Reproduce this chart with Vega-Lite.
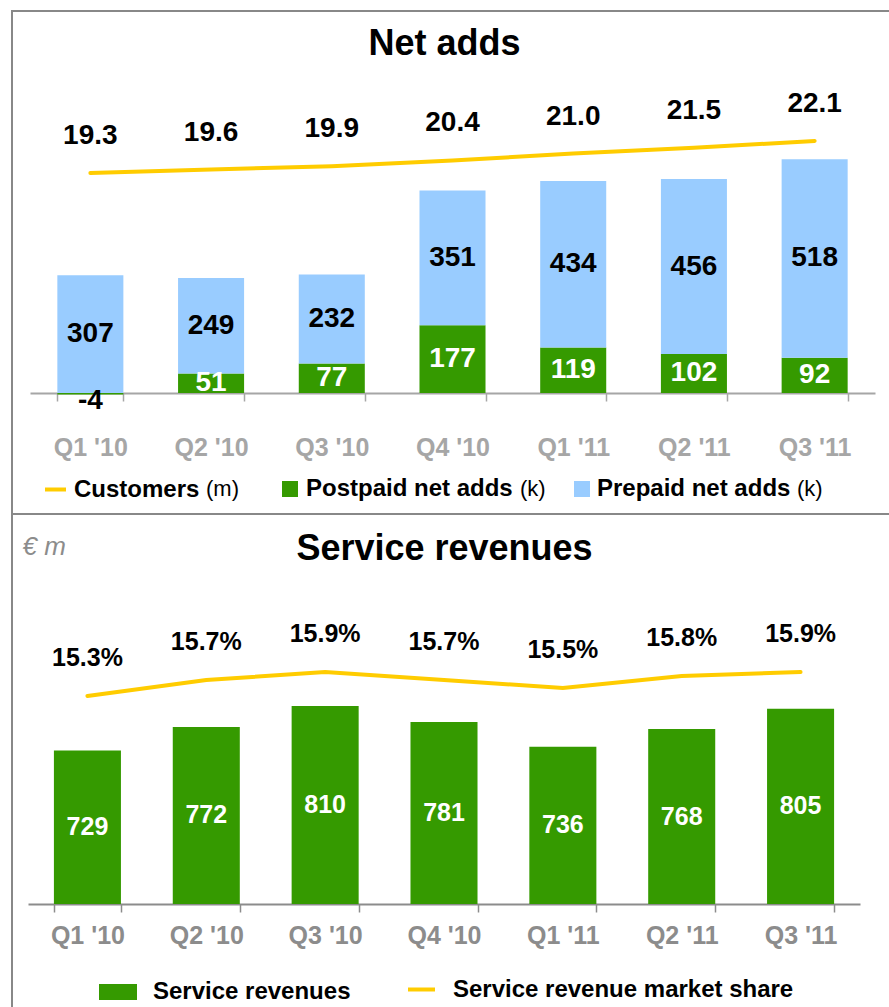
{
  "$schema": "https://vega.github.io/schema/vega-lite/v6.json",
  "background": "white",
  "padding": {"left": 11, "top": 10, "right": 0, "bottom": 0},
  "spacing": 0,
  "bounds": "flush",
  "datasets": {
    "netadds": [
      {"quarter": "Q1 '10", "series": "Postpaid", "value": -4},
      {"quarter": "Q1 '10", "series": "Prepaid", "value": 307},
      {"quarter": "Q2 '10", "series": "Postpaid", "value": 51},
      {"quarter": "Q2 '10", "series": "Prepaid", "value": 249},
      {"quarter": "Q3 '10", "series": "Postpaid", "value": 77},
      {"quarter": "Q3 '10", "series": "Prepaid", "value": 232},
      {"quarter": "Q4 '10", "series": "Postpaid", "value": 177},
      {"quarter": "Q4 '10", "series": "Prepaid", "value": 351},
      {"quarter": "Q1 '11", "series": "Postpaid", "value": 119},
      {"quarter": "Q1 '11", "series": "Prepaid", "value": 434},
      {"quarter": "Q2 '11", "series": "Postpaid", "value": 102},
      {"quarter": "Q2 '11", "series": "Prepaid", "value": 456},
      {"quarter": "Q3 '11", "series": "Postpaid", "value": 92},
      {"quarter": "Q3 '11", "series": "Prepaid", "value": 518}
    ],
    "customers": [
      {"quarter": "Q1 '10", "customers": 19.3},
      {"quarter": "Q2 '10", "customers": 19.6},
      {"quarter": "Q3 '10", "customers": 19.9},
      {"quarter": "Q4 '10", "customers": 20.4},
      {"quarter": "Q1 '11", "customers": 21.0},
      {"quarter": "Q2 '11", "customers": 21.5},
      {"quarter": "Q3 '11", "customers": 22.1}
    ],
    "revenue": [
      {"quarter": "Q1 '10", "revenue": 729, "share": 0.153},
      {"quarter": "Q2 '10", "revenue": 772, "share": 0.157},
      {"quarter": "Q3 '10", "revenue": 810, "share": 0.159},
      {"quarter": "Q4 '10", "revenue": 781, "share": 0.157},
      {"quarter": "Q1 '11", "revenue": 736, "share": 0.155},
      {"quarter": "Q2 '11", "revenue": 768, "share": 0.158},
      {"quarter": "Q3 '11", "revenue": 805, "share": 0.159}
    ]
  },
  "vconcat": [
    {
      "width": 885,
      "height": 503,
      "title": {"text": "Net adds", "fontSize": 36, "fontWeight": "bold", "color": "#000000", "anchor": "middle", "frame": "group", "baseline": "alphabetic", "offset": -80, "dx": -10},
      "encoding": {
        "x": {
          "field": "quarter", "type": "nominal", "sort": null,
          "scale": {"range": [18, 863], "paddingInner": 0.453, "paddingOuter": 0.2265},
          "axis": {"title": null, "orient": "bottom", "offset": -121, "tickBand": "extent", "domainColor": "#a6a6a6", "domainWidth": 2, "tickColor": "#a6a6a6", "tickWidth": 1.5, "tickSize": 8, "labelFontSize": 25, "labelFontWeight": "bold", "labelColor": "#a6a6a6", "labelPadding": 34, "labelAngle": 0, "grid": false}
        }
      },
      "layer": [
        {
          "data": {"name": "netadds"},
          "transform": [{"stack": "value", "groupby": ["quarter"], "sort": [{"field": "series", "order": "ascending"}], "as": ["v0", "v1"]}],
          "layer": [
            {
              "transform": [{"filter": "datum.series === 'Postpaid'"}],
              "mark": {"type": "bar"},
              "encoding": {
                "y": {"field": "v1", "type": "quantitative", "scale": {"domain": [-315.7, 996.6], "nice": false, "zero": false}, "axis": null},
                "y2": {"field": "v0"},
                "fill": {"datum": "Postpaid net adds", "type": "nominal", "scale": {"range": ["#359a00"]},
                  "legend": {"orient": "none", "legendX": 266, "legendY": 466, "direction": "horizontal", "title": "(k)", "titleOrient": "right", "titleFontSize": 22, "titleFontWeight": "normal", "titlePadding": 7, "titleAnchor": "middle", "titleBaseline": "middle", "symbolType": "square", "symbolSize": 256, "symbolStrokeWidth": 0, "labelOffset": 4}}
              }
            },
            {
              "transform": [{"filter": "datum.series === 'Prepaid'"}],
              "mark": {"type": "bar"},
              "encoding": {
                "y": {"field": "v1", "type": "quantitative", "scale": {"domain": [-315.7, 996.6], "nice": false, "zero": false}, "axis": null},
                "y2": {"field": "v0"},
                "color": {"datum": "Prepaid net adds", "type": "nominal", "scale": {"range": ["#99ccff"]},
                  "legend": {"orient": "none", "legendX": 558, "legendY": 466, "direction": "horizontal", "title": "(k)", "titleOrient": "right", "titleFontSize": 22, "titleFontWeight": "normal", "titlePadding": 7, "titleAnchor": "middle", "titleBaseline": "middle", "symbolType": "square", "symbolSize": 256, "symbolStrokeWidth": 0, "labelOffset": 3}}
              }
            },
            {
              "transform": [
                {"filter": "datum.series === 'Postpaid' && datum.value >= 0"},
                {"fold": ["v0", "v1"], "as": ["edge", "pos"]},
                {"aggregate": [{"op": "mean", "field": "pos", "as": "mid"}], "groupby": ["quarter", "series", "value"]}
              ],
              "mark": {"type": "text", "fontSize": 28, "fontWeight": "bold", "color": "#ffffff", "baseline": "middle"},
              "encoding": {
                "y": {"field": "mid", "type": "quantitative", "scale": {"domain": [-315.7, 996.6], "nice": false, "zero": false}, "axis": null},
                "text": {"field": "value", "type": "nominal"}
              }
            },
            {
              "transform": [
                {"filter": "datum.series === 'Prepaid'"},
                {"fold": ["v0", "v1"], "as": ["edge", "pos"]},
                {"aggregate": [{"op": "mean", "field": "pos", "as": "mid"}], "groupby": ["quarter", "series", "value"]}
              ],
              "mark": {"type": "text", "fontSize": 28, "fontWeight": "bold", "color": "#000000", "baseline": "middle"},
              "encoding": {
                "y": {"field": "mid", "type": "quantitative", "scale": {"domain": [-315.7, 996.6], "nice": false, "zero": false}, "axis": null},
                "text": {"field": "value", "type": "nominal"}
              }
            },
            {
              "transform": [{"filter": "datum.value < 0"}],
              "mark": {"type": "text", "fontSize": 28, "fontWeight": "bold", "color": "#000000", "baseline": "top", "dy": -8},
              "encoding": {
                "y": {"field": "v1", "type": "quantitative", "scale": {"domain": [-315.7, 996.6], "nice": false, "zero": false}, "axis": null},
                "text": {"field": "value", "type": "nominal"}
              }
            }
          ]
        },
        {
          "data": {"name": "customers"},
          "encoding": {
            "y": {"field": "customers", "type": "quantitative", "scale": {"domain": [-10.53, 33.47], "nice": false, "zero": false}, "axis": null}
          },
          "layer": [
            {
              "mark": {"type": "line", "strokeWidth": 4, "strokeCap": "round"},
              "encoding": {
                "stroke": {"datum": "Customers", "type": "nominal", "scale": {"range": ["#ffcc00"]},
                  "legend": {"orient": "none", "legendX": 31, "legendY": 466, "direction": "horizontal", "title": "(m)", "titleOrient": "right", "titleFontSize": 22, "titleFontWeight": "normal", "titlePadding": 7, "titleAnchor": "middle", "titleBaseline": "middle", "symbolType": "stroke", "symbolSize": 441, "symbolStrokeWidth": 4, "labelOffset": 6}}
              }
            },
            {
              "mark": {"type": "text", "fontSize": 28, "fontWeight": "bold", "color": "#000000", "baseline": "middle", "dy": -37},
              "encoding": {"text": {"field": "customers", "type": "quantitative", "format": ".1f"}}
            }
          ]
        }
      ],
      "resolve": {"scale": {"y": "independent"}}
    },
    {
      "width": 885,
      "height": 500,
      "title": {"text": "Service revenues", "fontSize": 36, "fontWeight": "bold", "color": "#000000", "anchor": "middle", "frame": "group", "baseline": "alphabetic", "offset": -82, "dx": -10},
      "encoding": {
        "x": {
          "field": "quarter", "type": "nominal", "sort": null,
          "scale": {"range": [16, 848], "paddingInner": 0.436, "paddingOuter": 0.218},
          "axis": {"title": null, "orient": "bottom", "offset": -110, "tickBand": "extent", "domainColor": "#8c8c8c", "domainWidth": 2, "tickColor": "#8c8c8c", "tickWidth": 1.5, "tickSize": 8, "labelFontSize": 25, "labelFontWeight": "bold", "labelColor": "#8c8c8c", "labelPadding": 11, "labelAngle": 0, "grid": false}
        }
      },
      "layer": [
        {
          "data": {"name": "revenue"},
          "layer": [
            {
              "mark": {"type": "bar"},
              "encoding": {
                "y": {"field": "revenue", "type": "quantitative", "scale": {"domain": [250, 1159.1], "nice": false, "zero": false},
                  "axis": {"title": "€ m", "titleAngle": 0, "titleX": 10, "titleY": 40, "titleAlign": "left", "titleBaseline": "alphabetic", "titleFontStyle": "italic", "titleFontWeight": "normal", "titleFontSize": 26, "titleColor": "#8c8c8c", "titlePadding": 0, "domain": false, "ticks": false, "labels": false, "grid": false, "minExtent": 0, "maxExtent": 0}},
                "y2": {"datum": 450},
                "fill": {"datum": "Service revenues", "type": "nominal", "scale": {"range": ["#359a00"]},
                  "legend": {"orient": "none", "legendX": 87, "legendY": 459, "direction": "horizontal", "title": null, "symbolType": "M-1,-0.42H1V0.42H-1Z", "symbolSize": 1444, "symbolStrokeWidth": 0, "labelOffset": 16}}
              }
            },
            {
              "mark": {"type": "text", "fontSize": 25, "fontWeight": "bold", "color": "#ffffff", "baseline": "middle"},
              "encoding": {
                "y": {"field": "revenue", "type": "quantitative", "scale": {"domain": [50, 1868.2], "nice": false, "zero": false}, "axis": null},
                "text": {"field": "revenue", "type": "nominal"}
              }
            }
          ],
          "resolve": {"scale": {"y": "independent"}}
        },
        {
          "data": {"name": "revenue"},
          "encoding": {
            "y": {"field": "share", "type": "quantitative", "scale": {"domain": [0.0735, 0.1985], "nice": false, "zero": false}, "axis": null}
          },
          "layer": [
            {
              "mark": {"type": "line", "strokeWidth": 4, "strokeCap": "round"},
              "encoding": {
                "stroke": {"datum": "Service revenue market share", "type": "nominal", "scale": {"range": ["#ffcc00"]},
                  "legend": {"orient": "none", "legendX": 394, "legendY": 460, "direction": "horizontal", "title": null, "symbolType": "stroke", "symbolSize": 729, "symbolStrokeWidth": 4, "labelOffset": 16}}
              }
            },
            {
              "mark": {"type": "text", "fontSize": 25, "fontWeight": "bold", "color": "#000000", "baseline": "middle", "dy": -38},
              "encoding": {"text": {"field": "share", "type": "quantitative", "format": ".1%"}}
            }
          ]
        }
      ],
      "resolve": {"scale": {"y": "independent"}}
    }
  ],
  "resolve": {"scale": {"x": "independent", "y": "independent", "fill": "independent", "stroke": "independent", "color": "independent"}},
  "config": {
    "font": "Liberation Sans",
    "view": {"stroke": "#888888", "strokeWidth": 2},
    "legend": {"padding": 0, "labelFont": "Liberation Sans", "labelFontSize": 24, "labelFontWeight": "bold", "labelColor": "#000000", "labelLimit": 600, "titleFont": "Liberation Sans", "titleColor": "#000000", "titleLimit": 200}
  }
}
